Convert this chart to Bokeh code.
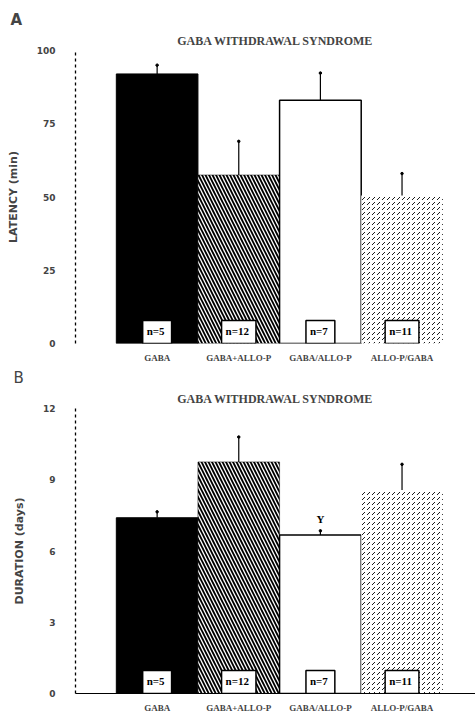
from bokeh.plotting import figure
from bokeh.layouts import column
from bokeh.models import Range1d, FixedTicker, Title
from bokeh.embed import file_html
from bokeh.resources import INLINE

categories = ["GABA", "GABA+ALLO-P", "GABA/ALLO-P", "ALLO-P/GABA"]
n_labels = ["n=5", "n=12", "n=7", "n=11"]
latency_mean = [92, 57.5, 83, 50.5]
latency_upper = [95, 69, 92.3, 58]
duration_mean = [7.4, 9.75, 6.67, 8.57]
duration_upper = [7.65, 10.8, 6.85, 9.65]
latency_ticks = [0, 25, 50, 75, 100]
duration_ticks = [0, 3, 6, 9, 12]

xs = [1, 2, 3, 4]
SERIF = "Liberation Serif"


def make_panel(letter, letter_style, means, uppers, ticks, ymax, ylabel, height, top, bottom,
               left, baseline, mark=None):
    p = figure(width=475, height=height, output_backend="svg", toolbar_location=None,
               title=None, x_range=Range1d(0.0, 4.9), y_range=Range1d(0, ymax),
               min_border_left=left, min_border_right=0, min_border_top=top,
               min_border_bottom=bottom)
    p.outline_line_color = None
    p.xgrid.visible = False
    p.ygrid.visible = False

    p.add_layout(Title(text="GABA WITHDRAWAL SYNDROME", align="center", text_font=SERIF,
                       text_font_style="bold", text_font_size="12px",
                       standoff=5), "above")
    p.add_layout(Title(text=letter, align="left", text_font="DejaVu Sans",
                       text_font_style=letter_style, text_font_size="15px", offset=-(left - 10),
                       standoff=2), "above")

    # bars
    p.vbar(x=[xs[0]], top=[means[0]], width=1.0, fill_color="black", line_color="black")
    p.vbar(x=[xs[1]], top=[means[1]], width=1.0, fill_color="white", line_color="black",
           line_width=0.5, hatch_pattern="\\", hatch_color="black", hatch_scale=7, hatch_weight=1.8)
    p.vbar(x=[xs[2]], top=[means[2]], width=1.0, fill_color="white", line_color="black",
           line_width=1.5)
    p.vbar(x=[xs[3]], top=[means[3]], width=1.0, fill_color="white", line_color=None,
           hatch_pattern=",", hatch_color="black", hatch_scale=5, hatch_weight=0.9)

    # error bars
    p.segment(x0=xs, y0=means, x1=xs, y1=uppers, line_color="black", line_width=1.2)
    p.scatter(x=xs, y=uppers, size=2.5, color="black")

    # n boxes
    p.text(x=xs, y=[0] * 4, text=n_labels, anchor="bottom_center", text_align="center",
           text_baseline="bottom", text_font="DejaVu Sans", text_font_style="bold",
           text_font_size="11px", padding=[4, 7, 4, 7], background_fill_color="white",
           border_line_color="black", border_line_width=1.5)

    if mark is not None:
        p.text(x=[xs[2]], y=[uppers[2]], text=[mark], text_align="center", text_baseline="bottom",
               y_offset=-6, text_font=SERIF, text_font_style="bold", text_font_size="11px")

    # axes
    p.xaxis.ticker = FixedTicker(ticks=xs)
    p.xaxis.major_label_overrides = {x: c for x, c in zip(xs, categories)}
    p.xaxis.major_label_text_font = SERIF
    p.xaxis.major_label_text_font_style = "bold"
    p.xaxis.major_label_text_font_size = "9px"
    p.xaxis.major_tick_line_color = None
    p.xaxis.minor_tick_line_color = None
    p.xaxis.major_label_standoff = 3
    if baseline:
        p.xaxis.axis_line_color = "black"
        p.xaxis.axis_line_width = 1.2
    else:
        p.xaxis.axis_line_color = None

    p.yaxis.ticker = FixedTicker(ticks=ticks)
    p.yaxis.major_label_text_font = "DejaVu Sans"
    p.yaxis.major_label_text_font_style = "bold"
    p.yaxis.major_label_text_font_size = "9px"
    p.yaxis.major_tick_line_color = None
    p.yaxis.minor_tick_line_color = None
    p.yaxis.major_label_standoff = 14
    p.yaxis.axis_line_dash = "3 3"
    p.yaxis.axis_line_width = 1.3
    p.yaxis.axis_label = ylabel
    p.yaxis.axis_label_text_font = "DejaVu Sans"
    p.yaxis.axis_label_text_font_style = "bold"
    p.yaxis.axis_label_text_font_size = "11px"
    p.yaxis.axis_label_standoff = 14
    return p


pA = make_panel("A", "bold", latency_mean, latency_upper, latency_ticks, 100, "LATENCY (min)",
                365, 50, 21, 75, False)
pB = make_panel("B", "normal", duration_mean, duration_upper, duration_ticks, 12, "DURATION (days)",
                350, 41, 16, 72, True, mark="Y")

layout = column(pA, pB, spacing=0)
open("out.html", "w").write(file_html(layout, INLINE))
